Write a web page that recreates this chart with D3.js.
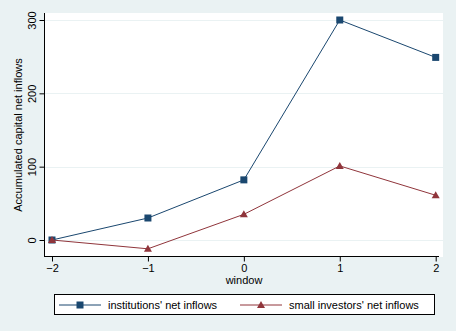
<!DOCTYPE html>
<html lang="en">
<head>
  <meta charset="UTF-8">
  <title>Accumulated capital net inflows</title>
  <script src="https://d3js.org/d3.v7.min.js"></script>
  <style>
    body { margin: 0; background: #eaf2f3; }
    svg { display: block; font-family: "Liberation Sans", Arial, sans-serif; }
  </style>
</head>
<body>
  <script>
    // data
    const windows = [-2, -1, 0, 1, 2];
    const institutions = [0, 30, 82, 300, 249];
    const smallInvestors = [0, -12, 35, 101, 61];
    const yTicks = [0, 100, 200, 300];

    const W = 456, H = 331;
    const svg = d3.select("body").append("svg")
        .attr("width", W)
        .attr("height", H);

    svg.append("rect").attr("width", W).attr("height", H).attr("fill", "#eaf2f3");

    // plot region
    const plot = { left: 44, right: 443, top: 13, bottom: 257 };
    svg.append("rect")
        .attr("x", plot.left).attr("y", plot.top)
        .attr("width", plot.right - plot.left)
        .attr("height", plot.bottom - plot.top)
        .attr("fill", "#ffffff");

    const x = d3.scaleLinear().domain([-2, 2]).range([52, 435.7]);
    const y = d3.scaleLinear().domain([0, 300]).range([240, 20]);

    // gridlines
    svg.selectAll("line.grid")
        .data(yTicks)
        .enter()
        .append("line")
        .attr("class", "grid")
        .attr("x1", plot.left + 1).attr("x2", plot.right)
        .attr("y1", d => Math.round(y(d)) + 0.5)
        .attr("y2", d => Math.round(y(d)) + 0.5)
        .attr("stroke", "#eaf2f3")
        .attr("stroke-width", 1);

    // y axis
    const yAxis = svg.append("g")
        .attr("transform", `translate(${plot.left + 0.5},0)`)
        .call(d3.axisLeft(y).tickValues(yTicks).tickSize(5).tickSizeOuter(0));
    yAxis.select(".domain").attr("d", `M0,${plot.top}V${plot.bottom}`).attr("stroke", "#000");
    yAxis.selectAll(".tick text")
        .attr("font-size", 11)
        .attr("font-family", "Liberation Sans, Arial, sans-serif")
        .attr("fill", "#000")
        .attr("transform", "rotate(-90)")
        .attr("x", 0).attr("y", -9)
        .attr("dy", 0)
        .attr("text-anchor", "middle");

    // x axis
    const xAxis = svg.append("g")
        .attr("transform", `translate(0,${plot.bottom - 0.5})`)
        .call(d3.axisBottom(x).tickValues(windows).tickSize(5).tickSizeOuter(0)
            .tickFormat(d3.format("d")));
    xAxis.select(".domain").attr("d", `M${plot.left},0H${plot.right - 4}`).attr("stroke", "#000");
    xAxis.selectAll(".tick text")
        .attr("font-size", 11)
        .attr("font-family", "Liberation Sans, Arial, sans-serif")
        .attr("fill", "#000")
        .attr("y", 8);

    // axis titles
    svg.append("text")
        .attr("transform", "translate(22,135) rotate(-90)")
        .attr("text-anchor", "middle")
        .attr("font-size", 11)
        .text("Accumulated capital net inflows");

    svg.append("text")
        .attr("x", 244).attr("y", 284)
        .attr("text-anchor", "middle")
        .attr("font-size", 11)
        .text("window");

    const series = [
        { name: "institutions' net inflows", values: institutions, color: "#1a476f", marker: "square" },
        { name: "small investors' net inflows", values: smallInvestors, color: "#90353b", marker: "triangle" }
    ];

    const line = d3.line().x((d, i) => x(windows[i])).y(d => y(d));

    function drawMarker(g, type, color) {
        if (type === "square") {
            g.append("rect").attr("x", -3.5).attr("y", -3.5).attr("width", 7).attr("height", 7).attr("fill", color);
        } else {
            g.append("path").attr("d", "M0,-4L4,3L-4,3Z").attr("fill", color);
        }
    }

    series.forEach(s => {
        svg.append("path")
            .datum(s.values)
            .attr("d", line)
            .attr("fill", "none")
            .attr("stroke", s.color)
            .attr("stroke-width", 1);
        s.values.forEach((v, i) => {
            const g = svg.append("g").attr("transform", `translate(${x(windows[i])},${y(v)})`);
            drawMarker(g, s.marker, s.color);
        });
    });

    // legend
    const lg = svg.append("g");
    lg.append("rect")
        .attr("x", 54.5).attr("y", 294.5)
        .attr("width", 380).attr("height", 20)
        .attr("fill", "#ffffff").attr("stroke", "#000");
    const legendX = [59, 240];
    series.forEach((s, i) => {
        const lx = legendX[i];
        lg.append("line")
            .attr("x1", lx).attr("x2", lx + 42)
            .attr("y1", 305).attr("y2", 305)
            .attr("stroke", s.color);
        const g = lg.append("g").attr("transform", `translate(${lx + 21},305)`);
        drawMarker(g, s.marker, s.color);
        lg.append("text")
            .attr("x", lx + 49).attr("y", 309)
            .attr("font-size", 11)
            .text(s.name);
    });
  </script>
</body>
</html>
